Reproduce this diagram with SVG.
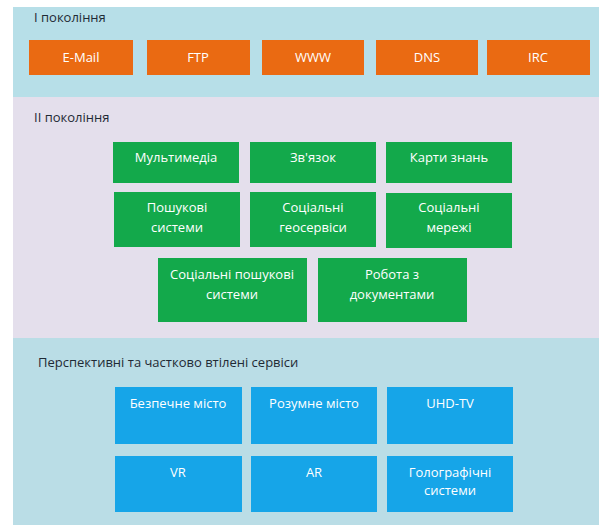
<svg xmlns="http://www.w3.org/2000/svg" width="603" height="525" viewBox="0 0 603 525">
<style>
text{font-family:"Open Sans","Noto Sans","DejaVu Sans",sans-serif;}
.t{font-size:13px;fill:#1f2a35;}
.b{font-size:13px;fill:#ffffff;text-anchor:middle;}
.o{fill:#ea6a12;}
.g{fill:#13a94b;}
.c{fill:#16a5e8;}
</style>
<rect x="0" y="0" width="603" height="525" fill="#ffffff"/>
<g id="panel1">
<rect x="13" y="7" width="586" height="90" fill="#b7dfe8"/>
<text class="t" x="34" y="22">І покоління</text>
</g>
<g id="panel2">
<rect x="13" y="97" width="586" height="241" fill="#e4dfec"/>
<text class="t" x="34" y="122">ІІ покоління</text>
</g>
<g id="panel3">
<rect x="13" y="338" width="586" height="187" fill="#badde6"/>
<text class="t" x="38" y="367">Перспективні та частково втілені сервіси</text>
</g>
<g id="email"><rect class="o" x="29" y="40" width="104" height="35"/><text class="b" x="81" y="62">E-Mail</text></g>
<g id="ftp"><rect class="o" x="147" y="40" width="103" height="35"/><text class="b" x="198" y="62">FTP</text></g>
<g id="www"><rect class="o" x="262" y="40" width="102" height="35"/><text class="b" x="313" y="62">WWW</text></g>
<g id="dns"><rect class="o" x="376" y="40" width="102" height="35"/><text class="b" x="427" y="62">DNS</text></g>
<g id="irc"><rect class="o" x="487" y="40" width="103" height="35"/><text class="b" x="538" y="62">IRC</text></g>
<g id="multimedia"><rect class="g" x="113" y="142" width="126" height="41"/><text class="b" x="176" y="162">Мультимедіа</text></g>
<g id="zviazok"><rect class="g" x="250" y="142" width="126" height="41"/><text class="b" x="313" y="162">Зв'язок</text></g>
<g id="karty"><rect class="g" x="386" y="142" width="126" height="41"/><text class="b" x="449" y="162">Карти знань</text></g>
<g id="poshukovi"><rect class="g" x="114" y="192" width="126" height="55"/><text class="b" x="177" y="212">Пошукові</text><text class="b" x="177" y="232">системи</text></g>
<g id="geoservisy"><rect class="g" x="250" y="192" width="126" height="55"/><text class="b" x="313" y="212">Соціальні</text><text class="b" x="313" y="232">геосервіси</text></g>
<g id="merezhi"><rect class="g" x="386" y="193" width="126" height="55"/><text class="b" x="449" y="212">Соціальні</text><text class="b" x="449" y="232">мережі</text></g>
<g id="sotsposhuk"><rect class="g" x="158" y="258" width="149" height="64"/><text class="b" x="232" y="279">Соціальні пошукові</text><text class="b" x="232" y="299">системи</text></g>
<g id="robota"><rect class="g" x="318" y="258" width="149" height="64"/><text class="b" x="392" y="279">Робота з</text><text class="b" x="392" y="299">документами</text></g>
<g id="bezpechne"><rect class="c" x="115" y="387" width="127" height="57"/><text class="b" x="178" y="408">Безпечне місто</text></g>
<g id="rozumne"><rect class="c" x="251" y="387" width="126" height="57"/><text class="b" x="314" y="408">Розумне місто</text></g>
<g id="uhd"><rect class="c" x="387" y="387" width="126" height="57"/><text class="b" x="450" y="408">UHD-TV</text></g>
<g id="vr"><rect class="c" x="115" y="456" width="127" height="56"/><text class="b" x="178" y="477">VR</text></g>
<g id="ar"><rect class="c" x="251" y="456" width="126" height="56"/><text class="b" x="314" y="477">AR</text></g>
<g id="holo"><rect class="c" x="387" y="456" width="126" height="56"/><text class="b" x="450" y="477">Голографічні</text><text class="b" x="450" y="495">системи</text></g>
<g id="connectors"></g>
</svg>
